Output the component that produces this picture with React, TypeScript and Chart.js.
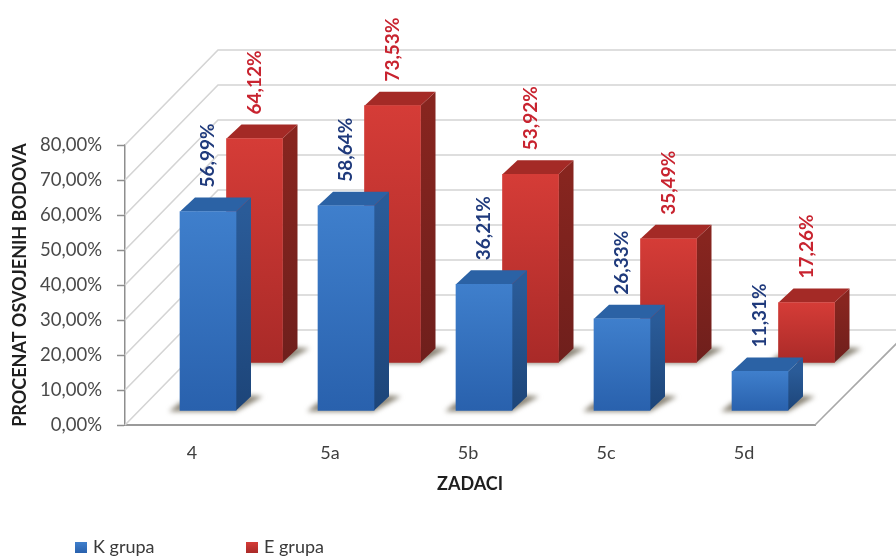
import React, { useEffect, useRef } from "react";
import { Chart, registerables } from "chart.js";

Chart.register(...registerables);

const categories = ["4", "5a", "5b", "5c", "5d"];
const kGroup = [56.99, 58.64, 36.21, 26.33, 11.31];
const eGroup = [64.12, 73.53, 53.92, 35.49, 17.26];
const yTicks = [0, 10, 20, 30, 40, 50, 60, 70, 80];

const seriesStyle = [
  {
    shiftX: 14, shiftY: -14, label: "#1f3a7c",
    frontTop: "#3f7fcc", frontBottom: "#2961ad",
    sideTop: "#2a5b98", sideBottom: "#1d4579",
    top: "#2b62a5",
  },
  {
    shiftX: 60.5, shiftY: -62, label: "#c8232f",
    frontTop: "#d53c37", frontBottom: "#a92a28",
    sideTop: "#87251f", sideBottom: "#6f1f1c",
    top: "#a42a26",
  },
];

const WALL_DX = 93;
const WALL_DY = 95;
const BAR_DX = 15;
const BAR_DY = 14;
const FONT = "Lato, Carlito, sans-serif";

const percent = (v: number) => v.toFixed(2).replace(".", ",") + "%";

const poly = (ctx: CanvasRenderingContext2D, pts: number[][], fill: any) => {
  ctx.beginPath();
  pts.forEach(([x, y], i) => (i ? ctx.lineTo(x, y) : ctx.moveTo(x, y)));
  ctx.closePath();
  ctx.fillStyle = fill;
  ctx.fill();
};

// Side wall, back wall and the floor edge, drawn from the value axis ticks.
const wallsPlugin = {
  id: "walls",
  beforeDatasetsDraw(chart: any) {
    const { ctx, chartArea, scales } = chart;
    const y = scales.y;
    ctx.save();
    ctx.lineWidth = 1.6;
    ctx.strokeStyle = "#d4d4d4";
    yTicks.forEach((t) => {
      const py = y.getPixelForValue(t);
      ctx.beginPath();
      ctx.moveTo(chartArea.left, py);
      ctx.lineTo(chartArea.left + WALL_DX, py - WALL_DY);
      ctx.lineTo(chart.width, py - WALL_DY);
      ctx.stroke();
    });
    ctx.strokeStyle = "#a8a8a8";
    ctx.beginPath();
    ctx.moveTo(chartArea.right, chartArea.bottom);
    ctx.lineTo(chartArea.right + 85, chartArea.bottom - 85);
    ctx.stroke();
    ctx.restore();
  },
};

// Each series sits at its own depth; shadows, side and top faces go around the native bar.
const depthPlugin = {
  id: "depth",
  beforeDatasetDraw(chart: any, args: any) {
    const { ctx } = chart;
    const st = seriesStyle[args.index];
    const bars = chart.getDatasetMeta(args.index).data;
    ctx.save();
    ctx.translate(st.shiftX, st.shiftY);
    bars.forEach((bar: any) => {
      const { x, y, base, width } = bar.getProps(["x", "y", "base", "width"], true);
      const l = x - width / 2;
      const r = x + width / 2;
      ctx.save();
      ctx.filter = "blur(2.5px)";
      poly(ctx, [
        [l - 11, base + 1],
        [r, base + 1],
        [r + BAR_DX + 12, base - BAR_DY],
        [r + BAR_DX, base - BAR_DY - 1],
        [l, base - 8],
      ], "rgba(110,102,85,0.8)");
      ctx.restore();
      const side = ctx.createLinearGradient(0, y, 0, base);
      side.addColorStop(0, st.sideTop);
      side.addColorStop(1, st.sideBottom);
      poly(ctx, [
        [r, y], [r + BAR_DX, y - BAR_DY],
        [r + BAR_DX, base - BAR_DY], [r, base],
      ], side);
      poly(ctx, [
        [l, y], [l + BAR_DX, y - BAR_DY],
        [r + BAR_DX, y - BAR_DY], [r, y],
      ], st.top);
    });
  },
  afterDatasetDraw(chart: any) {
    chart.ctx.restore();
  },
};

// Rotated value labels above the bars and the legend row at the foot of the chart.
const annotationPlugin = {
  id: "annotation",
  afterDraw(chart: any) {
    const { ctx } = chart;
    ctx.save();
    chart.data.datasets.forEach((ds: any, i: number) => {
      const st = seriesStyle[i];
      chart.getDatasetMeta(i).data.forEach((bar: any, j: number) => {
        ctx.save();
        ctx.translate(bar.x + st.shiftX, bar.y + st.shiftY - BAR_DY - 10);
        ctx.rotate(-Math.PI / 2);
        ctx.font = `bold 19px ${FONT}`;
        ctx.fillStyle = st.label;
        ctx.textAlign = "left";
        ctx.textBaseline = "middle";
        ctx.fillText(percent(ds.data[j]), 0, 0);
        ctx.restore();
      });
    });
    const legendX = [75, 246];
    chart.data.datasets.forEach((ds: any, i: number) => {
      const st = seriesStyle[i];
      const x = legendX[i];
      const g = ctx.createLinearGradient(0, 542, 0, 553);
      g.addColorStop(0, st.frontTop);
      g.addColorStop(1, st.frontBottom);
      ctx.fillStyle = g;
      ctx.fillRect(x, 542, 12, 11);
      ctx.fillStyle = "#3a3a3a";
      ctx.font = `18px ${FONT}`;
      ctx.textAlign = "left";
      ctx.textBaseline = "middle";
      ctx.fillText(ds.label, x + 18, 547);
    });
    ctx.restore();
  },
};

export default function App() {
  const ref = useRef<HTMLCanvasElement>(null);

  useEffect(() => {
    const frontFill = (i: number) => (c: any) => {
      const st = seriesStyle[i];
      const y = c.chart.scales.y;
      const from = c.parsed && y ? y.getPixelForValue(c.parsed.y) : NaN;
      const to = y ? y.getPixelForValue(0) : NaN;
      if (!Number.isFinite(from) || !Number.isFinite(to)) return st.frontTop;
      const g = c.chart.ctx.createLinearGradient(0, from, 0, to);
      g.addColorStop(0, st.frontTop);
      g.addColorStop(1, st.frontBottom);
      return g;
    };
    const chart = new Chart(ref.current!, {
      type: "bar",
      data: {
        labels: categories,
        datasets: [
          { label: "K grupa", data: kGroup, backgroundColor: frontFill(0), clip: false },
          { label: "E grupa", data: eGroup, backgroundColor: frontFill(1), clip: false },
        ],
      },
      plugins: [wallsPlugin, depthPlugin, annotationPlugin],
      options: {
        animation: false,
        responsive: false,
        layout: { padding: { top: 145, right: 81, bottom: 0, left: 0 } },
        datasets: { bar: { grouped: false, barThickness: 56, borderWidth: 0 } },
        plugins: { legend: { display: false }, tooltip: { enabled: false } },
        scales: {
          x: {
            afterFit(s: any) { s.height = 132; },
            grid: { display: false, drawTicks: false },
            border: { display: true, color: "#9a9a9a", width: 2 },
            ticks: { color: "#3f3f3f", padding: 17, labelOffset: -2, font: { family: FONT, size: 18 } },
            title: {
              display: true, text: "ZADACI", color: "#1f1f1f",
              font: { family: FONT, size: 18, weight: "bold" },
              padding: { top: 0, bottom: 62 },
            },
          },
          y: {
            min: 0,
            max: 80,
            afterFit(s: any) { s.width = 125; },
            grid: { drawOnChartArea: false, drawTicks: true, tickLength: 8, tickColor: "#8e8e8e", tickWidth: 1.5 },
            border: { display: true, color: "#8e8e8e", width: 1.5 },
            ticks: {
              stepSize: 10,
              color: "#4a4a4a",
              padding: 15,
              font: { family: FONT, size: 18.5 },
              callback: (v: any) => percent(Number(v)),
            },
            title: {
              display: true, text: "PROCENAT OSVOJENIH BODOVA", color: "#1f1f1f",
              font: { family: FONT, size: 18, weight: "bold" },
              padding: { top: 9, bottom: 0 },
            },
          },
        },
      } as any,
    });
    return () => chart.destroy();
  }, []);

  return (
    <div style={{ position: "absolute", left: 0, top: 0, width: 896, height: 557, background: "#fff" }}>
      <canvas ref={ref} width={896} height={557} style={{ display: "block" }} />
    </div>
  );
}
